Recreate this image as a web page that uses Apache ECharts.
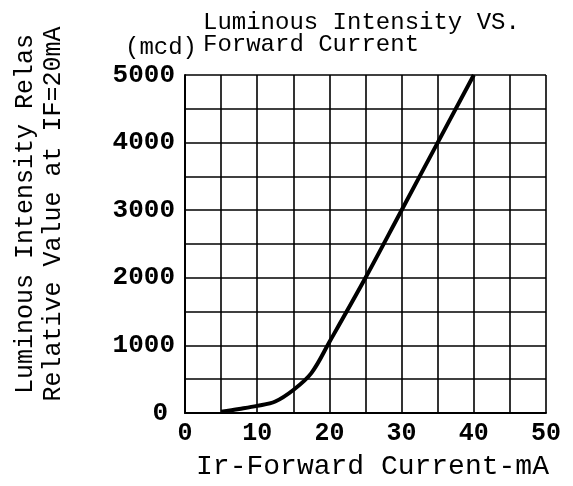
<!DOCTYPE html>
<html>
<head>
<meta charset="utf-8">
<script src="https://cdn.jsdelivr.net/npm/echarts@6/dist/echarts.min.js"></script>
<style>
html,body{margin:0;padding:0;background:#fff;}
#chart{width:573px;height:486px;}
</style>
</head>
<body>
<div id="chart"></div>
<script>
// Data
var currentMA = [5, 7.5, 10, 12.5, 15, 17.5, 20, 25, 30, 35, 40];
var intensity = [20, 60, 105, 170, 340, 590, 1050, 2000, 3000, 4000, 5000];
var xTickLabels = [0, 10, 20, 30, 40, 50];
var yTickLabels = [0, 1000, 2000, 3000, 4000, 5000];
var titleText = ['Luminous Intensity VS.', 'Forward Current'];
var unitText = '(mcd)';
var xName = 'Ir-Forward Current-mA';
var yNameLines = ['Luminous Intensity Relas', 'Relative Value at IF=20mA'];

var FONT = 'Liberation Mono';
var seriesData = currentMA.map(function (x, i) { return [x, intensity[i]]; });

var chart = echarts.init(document.getElementById('chart'), null, {renderer: 'canvas'});
chart.setOption({
  animation: false,
  backgroundColor: '#fff',
  title: [
    {
      text: titleText.join('\n'),
      left: 198, top: 7,
      textStyle: {fontFamily: FONT, fontSize: 24, fontWeight: 'normal', color: '#000', lineHeight: 22}
    },
    {
      text: unitText,
      left: 120, top: 31,
      textStyle: {fontFamily: FONT, fontSize: 24, fontWeight: 'normal', color: '#000'}
    }
  ],
  grid: {left: 185, right: 27, top: 75, bottom: 73, containLabel: false},
  xAxis: {
    type: 'value', min: 0, max: 50, interval: 5,
    name: xName, nameLocation: 'middle', nameGap: 40,
    nameTextStyle: {fontFamily: FONT, fontSize: 28, color: '#000', padding: [0, 0, 0, 14]},
    axisLine: {show: true, lineStyle: {color: '#000', width: 2}},
    axisTick: {show: false},
    splitLine: {show: true, lineStyle: {color: '#000', width: 1.6}},
    axisLabel: {
      fontFamily: FONT, fontSize: 25, fontWeight: 'bold', color: '#000', margin: 8,
      formatter: function (v) { return xTickLabels.indexOf(v) >= 0 ? String(v) : ''; }
    }
  },
  yAxis: {
    type: 'value', min: 0, max: 5000, interval: 500,
    axisLine: {show: true, lineStyle: {color: '#000', width: 2}},
    axisTick: {show: false},
    splitLine: {show: true, lineStyle: {color: '#000', width: 1.6}},
    axisLabel: {
      fontFamily: FONT, fontSize: 26, fontWeight: 'bold', color: '#000', margin: 10,
      formatter: function (v) {
        if (yTickLabels.indexOf(v) < 0) return '';
        return v === 0 ? '{z|0}' : String(v);
      },
      rich: {z: {fontFamily: FONT, fontSize: 26, color: '#000', padding: [0, 7, 0, 0]}}
    }
  },
  graphic: [
    {
      type: 'text', x: 39, y: 214, rotation: Math.PI / 2,
      style: {
        text: yNameLines.join('\n'),
        fontFamily: FONT, fontSize: 25, fill: '#000', lineHeight: 28,
        textAlign: 'center', textVerticalAlign: 'middle',
        align: 'center', verticalAlign: 'middle'
      }
    }
  ],
  series: [{
    type: 'line', data: seriesData, smooth: 0.35, showSymbol: false, clip: false,
    lineStyle: {color: '#000', width: 4}
  }]
});
</script>
</body>
</html>
